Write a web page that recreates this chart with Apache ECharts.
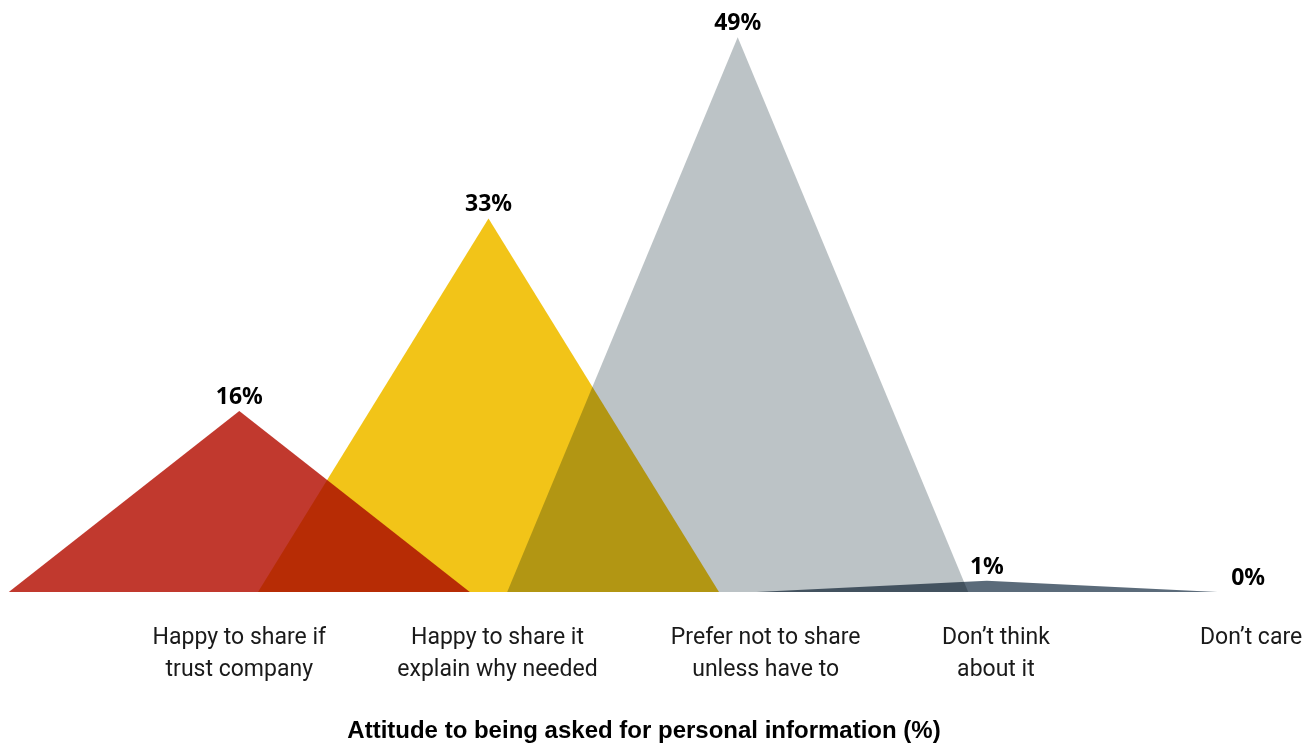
<!DOCTYPE html>
<html>
<head>
<meta charset="utf-8">
<title>Attitude to being asked for personal information</title>
<script src="https://cdn.jsdelivr.net/npm/echarts@6/dist/echarts.min.js"></script>
<style>
  html, body { margin: 0; padding: 0; background: #ffffff; }
  #chart { width: 1315px; height: 747px; }
</style>
</head>
<body>
<div id="chart"></div>
<script>
// Survey answers, in display order
const categories = [
  'Happy to share if\ntrust company',
  'Happy to share it\nexplain why needed',
  'Prefer not to share\nunless have to',
  'Don\u2019t think\nabout it',
  'Don\u2019t care'
];
// Share of respondents (%)
const shares = [16, 33, 49, 1, 0];
// Fill colour of each triangle
const fills = ['#C1392E', '#F2C418', '#BCC3C6', '#5B6B7A', '#5B6B7A'];

const axisTitle = 'Attitude to being asked for personal information (%)';

// Horizontal nudges (px) for the category captions under the baseline
const captionShift = [0, 9, 28, 9, 15];

const rich = {};
captionShift.forEach((s, i) => {
  rich['c' + i] = {
    fontFamily: 'Roboto, "Noto Sans", sans-serif',
    fontSize: 23,
    lineHeight: 32,
    color: '#1a1a1a',
    padding: [0, 0, 0, s * 2]
  };
});

const chart = echarts.init(document.getElementById('chart'), null, { renderer: 'canvas' });

chart.setOption({
  animation: false,
  backgroundColor: '#ffffff',
  grid: {
    left: 114.7,
    width: 1246,
    top: 26,
    bottom: 155,
    containLabel: false,
    outerBoundsMode: 'none'
  },
  xAxis: {
    type: 'category',
    data: categories,
    boundaryGap: true,
    axisLine: { show: false },
    axisTick: { show: false },
    splitLine: { show: false },
    axisLabel: {
      interval: 0,
      margin: 30,
      formatter: (v, i) => '{c' + i + '|' + v + '}',
      rich: rich
    }
  },
  yAxis: {
    type: 'value',
    min: 0,
    max: 50,
    show: false
  },
  series: [{
    type: 'pictorialBar',
    blendMode: 'multiply',
    barWidth: '100%',
    symbol: 'triangle',
    symbolSize: ['185%', '100%'],
    label: {
      show: true,
      position: 'top',
      distance: 2,
      formatter: '{c}%',
      fontFamily: '"Noto Sans", sans-serif',
      fontWeight: 'bold',
      fontSize: 23,
      color: '#000000'
    },
    data: shares.map((v, i) => ({
      value: v,
      itemStyle: { color: fills[i] },
      label: v === 0 ? { offset: [12, 0] } : undefined
    }))
  }],
  graphic: [{
    type: 'text',
    x: 644,
    y: 731,
    style: {
      text: axisTitle,
      fill: '#000000',
      font: 'bold 24px "Liberation Sans", Arial, sans-serif',
      textAlign: 'center',
      textVerticalAlign: 'middle'
    }
  }]
});
</script>
</body>
</html>
